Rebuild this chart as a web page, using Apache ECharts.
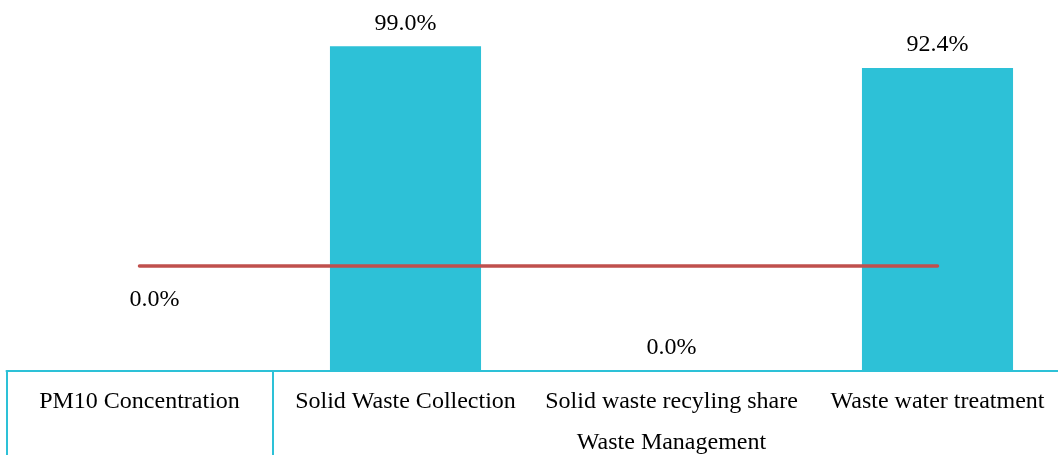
<!DOCTYPE html>
<html>
<head>
<meta charset="utf-8">
<script src="https://cdn.jsdelivr.net/npm/echarts@6/dist/echarts.min.js"></script>
<style>
  html, body { margin: 0; padding: 0; background: #ffffff; }
  #chart { width: 1058px; height: 455px; }
</style>
</head>
<body>
<div id="chart"></div>
<script>
// Indicator categories and their group labels
const categories = ['PM10 Concentration', 'Solid Waste Collection', 'Solid waste recyling share', 'Waste water treatment'];
const groupLabels = ['', '', 'Waste Management', ''];

// Bar values (%); PM10 has no bar value
const barValues = [null, 99.0, 0.0, 92.4];
// Reference line values (%)
const lineValues = [0.0, 0.0, 0.0, 0.0];

const FONT = '"Liberation Serif", "Times New Roman", serif';
const FONT_SIZE = 24;
const BAR_COLOR = '#2DC1D7';
const LINE_COLOR = '#C0504D';

const chart = echarts.init(document.getElementById('chart'), null, { renderer: 'canvas' });

chart.setOption({
  animation: false,
  backgroundColor: '#ffffff',
  grid: {
    left: 6.5, width: 1064, top: 43, bottom: 84,
    containLabel: false,
    outerBoundsMode: 'none'
  },
  xAxis: [
    {
      type: 'category',
      data: categories,
      position: 'bottom',
      axisLine: { show: true, lineStyle: { color: BAR_COLOR, width: 2 } },
      axisTick: {
        show: true,
        alignWithLabel: false,
        length: 86,
        interval: function (index) { return index <= 1; },
        lineStyle: { color: BAR_COLOR, width: 2 }
      },
      axisLabel: { color: '#000', fontFamily: FONT, fontSize: FONT_SIZE, margin: 19, interval: 0 }
    },
    {
      type: 'category',
      data: groupLabels,
      position: 'bottom',
      axisLine: { show: false },
      axisTick: { show: false },
      axisLabel: { color: '#000', fontFamily: FONT, fontSize: FONT_SIZE, margin: 60, interval: 0 }
    }
  ],
  yAxis: [
    { type: 'value', min: 0, max: 100, show: false, splitLine: { show: false } },
    { type: 'value', min: -32, max: 68, show: false, splitLine: { show: false } }
  ],
  series: [
    {
      type: 'bar',
      data: barValues,
      xAxisIndex: 0,
      yAxisIndex: 0,
      barWidth: '56.8%',
      itemStyle: { color: BAR_COLOR },
      label: {
        show: true,
        position: 'top',
        distance: 11,
        color: '#000',
        fontFamily: FONT,
        fontSize: FONT_SIZE,
        formatter: function (p) { return p.value.toFixed(1) + '%'; }
      },
      z: 2
    },
    {
      type: 'line',
      data: lineValues,
      xAxisIndex: 0,
      yAxisIndex: 1,
      symbol: 'circle',
      symbolSize: 0,
      showSymbol: true,
      itemStyle: { color: LINE_COLOR },
      lineStyle: { color: LINE_COLOR, width: 3.5, cap: 'round' },
      label: {
        show: true,
        position: 'bottom',
        distance: 22,
        offset: [15, 0],
        color: '#000',
        fontFamily: FONT,
        fontSize: FONT_SIZE,
        formatter: function (p) { return p.dataIndex === 0 ? p.value.toFixed(1) + '%' : ''; }
      },
      z: 3
    }
  ]
});
</script>
</body>
</html>
